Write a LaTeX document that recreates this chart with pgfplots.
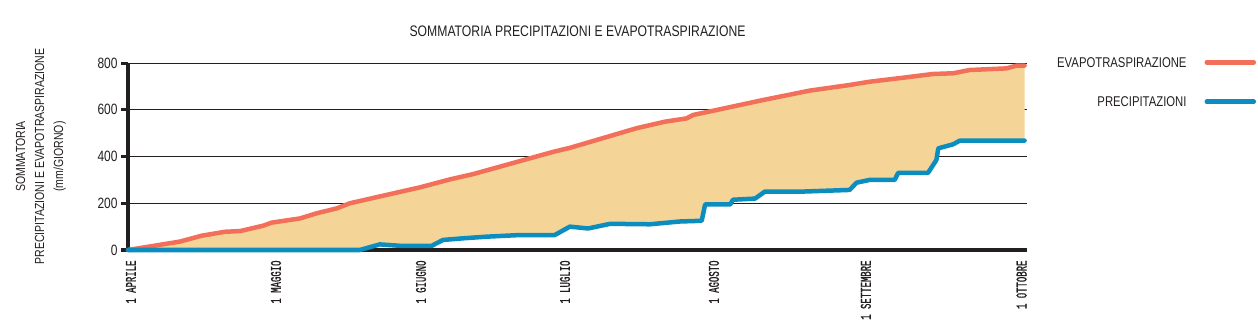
\documentclass[border=0pt]{standalone}
\usepackage{fontspec}
\setmainfont{Liberation Sans}[FakeStretch=0.8]
\newfontfamily\tickfont{Liberation Mono}[FakeStretch=0.6, FakeBold=0.8]
\usepackage{pgfplots}
\pgfplotsset{compat=1.18}
\usepgfplotslibrary{fillbetween}
\usepackage{pgfplotstable}
\definecolor{evap}{HTML}{F2705A}
\definecolor{prec}{HTML}{0B8DBF}
\definecolor{band}{HTML}{F5D597}
\definecolor{ink}{HTML}{231F20}

\pgfplotstableread{
d v
0 0
10.6 36
15 61
19.8 78
22.9 81
27.6 104
29.3 117
35.1 135
38.5 157
42.6 178
45.3 200
52 232
59.6 268
65.7 302
70.5 325
82 392
86.8 420
90.2 437
103.8 521
109.6 549
114 563
115.4 578
119.5 596
129.7 642
139.2 682
147.3 706
151.4 720
158.2 737
164.3 753
168.4 756
171.8 770
179.3 777
181.4 789
183 789
}\evaptab

\pgfplotstableread{
d v
0 0
47.3 0
51.4 24
55.5 18
62 18
64.3 43
68.4 50
73.2 57
80 64
87.1 64
90.2 100
93.9 92
98.4 112
106.5 110
112.7 122
117.1 125
117.8 195
122.9 195
123.5 215
128 220
130 250
137.8 250
147.3 257
148.7 288
151.4 300
156.5 300
157.2 330
163.3 330
165 385
165.4 435
168.4 452
169.8 468
183 468
}\prectab

\begin{document}
\begin{tikzpicture}
\begin{axis}[
  width=899bp, height=187bp, scale only axis,
  xmin=0, xmax=183.5, ymin=0, ymax=800,
  clip=false,
  axis x line*=bottom, axis y line*=left,
  axis line style={ink, line width=3bp, -},
  ytick={0,200,400,600,800},
  ymajorgrids, grid style={ink, line width=0.8bp},
  y tick style={ink, line width=3bp},
  tick align=outside, major tick length=7bp,
  xtick={0.6,30.2,59.8,89.2,119.6,150.6,182.4},
  xticklabels={1 APRILE,1 MAGGIO,1 GIUGNO,1 LUGLIO,1 AGOSTO,1 SETTEMBRE,1 OTTOBRE},
  x tick style={draw=none},
  x tick label style={rotate=90, anchor=east, font=\tickfont\fontsize{15}{15}\selectfont, text=ink},
  y tick label style={font=\fontsize{15}{15}\selectfont, text=ink},
  /pgf/number format/assume math mode=true,
  title={SOMMATORIA PRECIPITAZIONI E EVAPOTRASPIRAZIONE},
  title style={font=\fontsize{15.3}{15.3}\selectfont, text=ink, at={(axis description cs:0.5,1)}, anchor=base, yshift=21bp},
  ylabel={SOMMATORIA\\PRECIPITAZIONI E EVAPOTRASPIRAZIONE\\(mm/GIORNO)},
  ylabel style={align=center, font=\fontsize{13.2}{19}\selectfont, text=ink, at={(axis description cs:-0.069,0.5)}, anchor=south, inner sep=0pt},
  legend plot pos=right,
  legend cell align=right,
  legend style={draw=none, fill=none, at={(axis description cs:1,1)}, anchor=north west, xshift=28bp, yshift=8bp,
    font=\fontsize{14.2}{14.2}\selectfont, text=ink, row sep=24bp, inner sep=0pt,
    /tikz/every odd column/.append style={column sep=16bp}},
  legend image code/.code={\draw[#1, line width=4.5bp] (0bp,0.5bp) -- (47bp,0.5bp);},
]
\addplot[draw=none, name path=E, forget plot] table[x=d, y=v]{\evaptab};
\addplot[draw=none, name path=P, forget plot] table[x=d, y=v]{\prectab};
\addplot[band, forget plot] fill between[of=E and P];
\addplot[evap, line width=4.5bp, line join=round, line cap=round] table[x=d, y=v]{\evaptab};
\addlegendentry{EVAPOTRASPIRAZIONE}
\addplot[prec, line width=4.5bp, line join=round, line cap=round] table[x=d, y=v]{\prectab};
\addlegendentry{PRECIPITAZIONI}
\end{axis}
\pgfresetboundingbox
\path[use as bounding box] (-128bp,-75bp) rectangle (1130bp,250bp);
\end{tikzpicture}
\end{document}
